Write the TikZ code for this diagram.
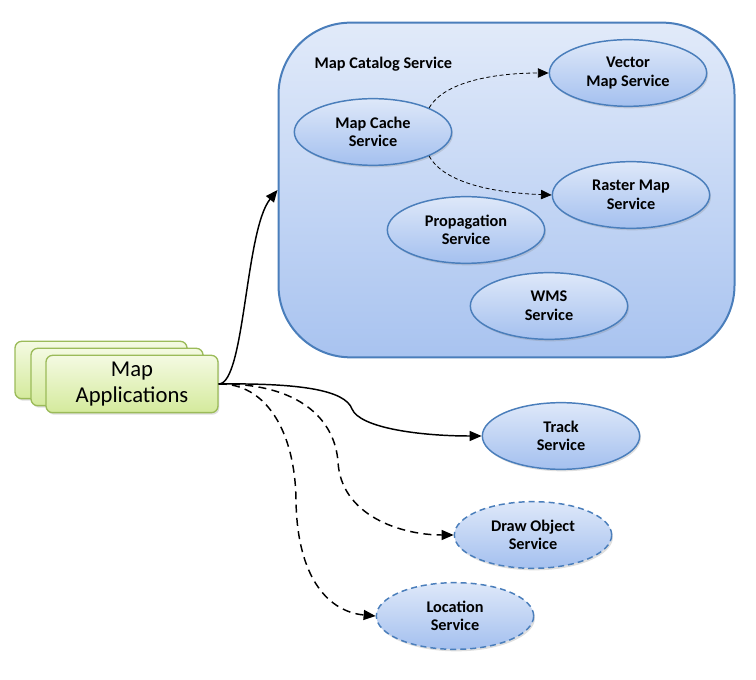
\documentclass[tikz,border=0pt]{standalone}
\usepackage{fontspec}
\setmainfont{Carlito}
\usepackage{tikz}
\usetikzlibrary{arrows.meta,%
                shapes.geometric,%
                shadows}

\definecolor{SvcLine}{RGB}{74,126,187}
\definecolor{SvcTop}{RGB}{222,232,249}
\definecolor{SvcBottom}{RGB}{164,192,239}
\definecolor{AppLine}{RGB}{155,187,89}
\definecolor{AppTop}{RGB}{244,250,226}
\definecolor{AppBottom}{RGB}{212,234,156}

\begin{document}
\begin{tikzpicture}[x=0.75pt,y=-0.75pt]
		\tikzstyle{ServiceStyle}=[ellipse,draw=SvcLine,line width=1.1pt,
			top color=SvcTop,bottom color=SvcBottom,inner sep=0pt,
			minimum width=118pt,minimum height=50pt,align=center,
			font=\bfseries\fontsize{12.2}{14}\selectfont,
			drop shadow={shadow xshift=1pt,shadow yshift=-1.5pt,opacity=0.25}]
		\tikzstyle{PlannedStyle}=[ServiceStyle,dash pattern=on 4.5pt off 3pt]
		\tikzstyle{AppStyle}=[rectangle,rounded corners=5pt,draw=AppLine,line width=1pt,
			top color=AppTop,bottom color=AppBottom,
			minimum width=129pt,minimum height=43pt,align=center,
			font=\fontsize{17}{20}\selectfont,
			drop shadow={shadow xshift=1pt,shadow yshift=-1.5pt,opacity=0.25}]
		\tikzstyle{CatalogStyle}=[rectangle,rounded corners=54pt,draw=SvcLine,line width=1.5pt,
			top color=SvcTop!90!white,bottom color=SvcBottom!95!white,
			minimum width=342pt,minimum height=251pt]
		\tikzstyle{EdgeStyle}=[line width=1.1pt,-{Triangle[length=9pt,width=7.5pt]}]
		\tikzstyle{PlannedEdgeStyle}=[EdgeStyle,dash pattern=on 6pt off 4pt]
		\tikzstyle{InnerEdgeStyle}=[line width=0.6pt,dash pattern=on 3pt off 2pt,
			-{Triangle[length=8pt,width=7pt]}]
		\useasboundingbox (0,0) rectangle (756,680);
		% catalog container
		\node[CatalogStyle] (catalog) at (506.5,190) {};
		\node[anchor=west,font=\bfseries\fontsize{12.2}{14}\selectfont] (catlabel) at (310,64) {Map Catalog Service};
		\node[ServiceStyle] (cache) at (373,132) {Map Cache\\Service};
		\node[ServiceStyle] (vector) at (628,73) {Vector\\Map Service};
		\node[ServiceStyle] (raster) at (631,195) {Raster Map\\Service};
		\node[ServiceStyle] (prop) at (466,230) {Propagation\\Service};
		\node[ServiceStyle] (wms) at (549,306) {WMS\\Service};
		% outside services
		\node[ServiceStyle] (track) at (561,436) {Track\\Service};
		\node[PlannedStyle] (drawobj) at (533,535) {Draw Object\\Service};
		\node[PlannedStyle] (loc) at (455,616) {Location\\Service};
		% application stack
		\node[AppStyle] (app3) at (101,370) {};
		\node[AppStyle] (app2) at (117,377) {};
		\node[AppStyle] (app) at (132,384) {Map\\Applications};
		% links
		\draw[InnerEdgeStyle] (cache.north east) .. controls (445,80) and (500,73) .. (vector.west);
		\draw[InnerEdgeStyle] (cache.south east) .. controls (445,185) and (500,193) .. (raster.west);
		\draw[EdgeStyle] (app.east) .. controls (245,384) and (245,230) .. (catalog.west);
		\draw[EdgeStyle] (app.east) .. controls (300,383) and (345,390) .. (352,409)
			.. controls (360,428) and (420,436) .. (track.west);
		\draw[PlannedEdgeStyle] (app.east) .. controls (300,383) and (335,420) .. (338,462)
			.. controls (341,515) and (400,535) .. (drawobj.west);
		\draw[PlannedEdgeStyle] (app.east) .. controls (265,383) and (295,430) .. (296,500)
			.. controls (297,580) and (330,612) .. (loc.west);
	\end{tikzpicture}
\end{document}
